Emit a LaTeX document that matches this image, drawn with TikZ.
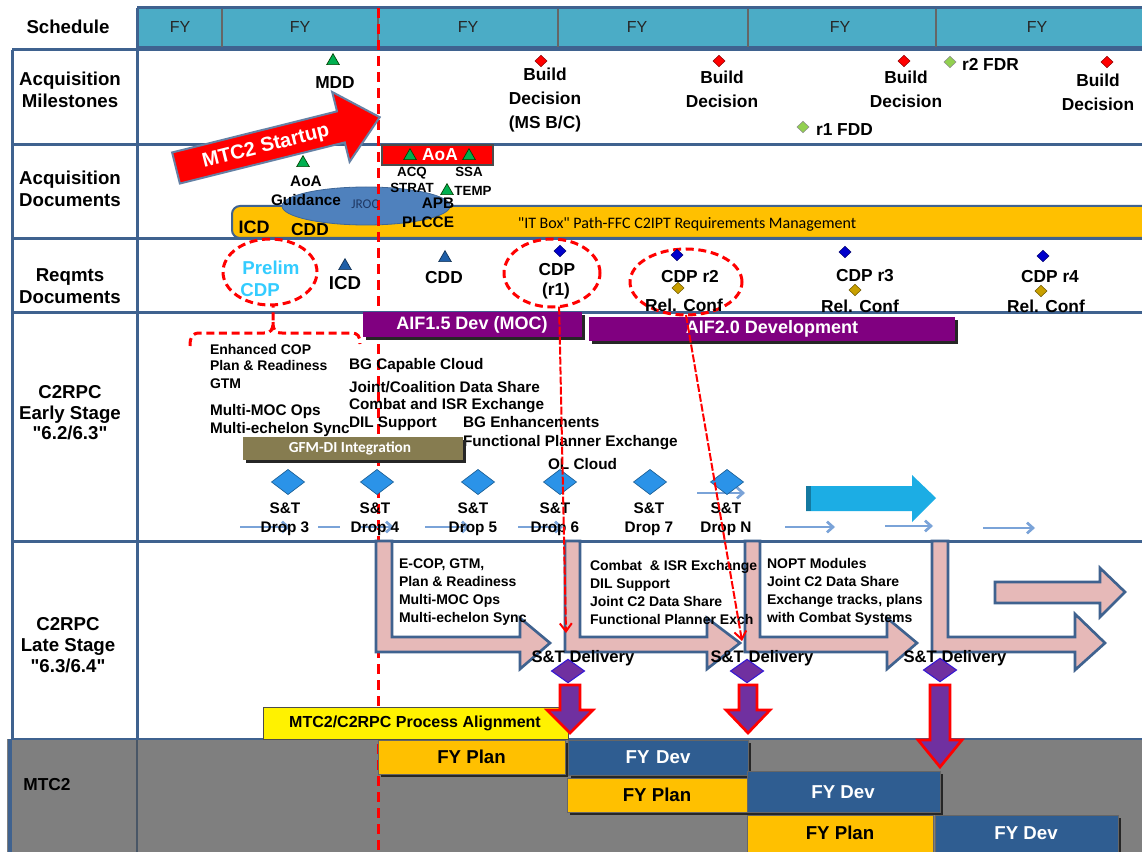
\documentclass[tikz,border=0pt]{standalone}
\usepackage{fontspec}
\setmainfont{Liberation Sans}
\newfontfamily\carl{Carlito}
\usetikzlibrary{shapes.geometric,arrows.meta}
\newcommand\Fs[2]{\fontsize{#1}{#2}\selectfont}
\definecolor{teal1}{HTML}{4BACC6}
\definecolor{bord}{HTML}{3F628F}
\definecolor{ellb}{HTML}{4F81BD}
\definecolor{gold1}{HTML}{FFC000}
\definecolor{purp}{HTML}{800080}
\definecolor{purd}{HTML}{7030A0}
\definecolor{grn}{HTML}{00B050}
\definecolor{sblue}{HTML}{2B93E8}
\definecolor{cdpb}{HTML}{0000CC}
\definecolor{goldd}{HTML}{C9A000}
\definecolor{lgrn}{HTML}{92D050}
\definecolor{pink1}{HTML}{E6B9B8}
\definecolor{cyan1}{HTML}{1CADE4}
\definecolor{gray1}{HTML}{7F7F7F}
\definecolor{fydev}{HTML}{2F5D91}
\definecolor{olive1}{HTML}{867C50}
\definecolor{thinb}{HTML}{7AA3D8}
\definecolor{prelim}{HTML}{33CCFF}
\definecolor{tblue}{HTML}{1F5FA8}
\definecolor{jroc}{HTML}{1F3864}
\begin{document}
\begin{tikzpicture}[x=0.75pt,y=-0.75pt,
  every node/.style={inner sep=0pt,outer sep=0pt},
  lab/.style={font=\Fs{14}{16.5}\bfseries,align=center},
  ms/.style={font=\Fs{13}{18}\bfseries,align=center},
  sm/.style={font=\Fs{11.5}{14.25}\bfseries,align=center},
  tinytx/.style={font=\Fs{10}{12}\bfseries,align=center},
  rq/.style={font=\Fs{13}{15}\bfseries,align=center},
  es/.style={font=\Fs{11.5}{14}\bfseries,anchor=west},
  ess/.style={font=\Fs{10.5}{13}\bfseries,anchor=west},
  droptx/.style={font=\Fs{11.5}{14.25}\bfseries,align=center},
  latetx/.style={font=\Fs{10.5}{13.5}\bfseries,align=left,anchor=west},
  fy/.style={font=\Fs{12}{14},text=black!85},
  boxtx/.style={font=\Fs{14}{16}\bfseries},
  tri/.style={regular polygon,regular polygon sides=3,minimum size=11pt,fill=grn,draw=green!25!black,line width=0.5pt},
  btri/.style={tri,fill=tblue,draw=tblue!50!black},
  rdiam/.style={diamond,minimum width=9pt,minimum height=8.5pt,fill=red,draw=red!55!black,line width=0.4pt},
  gdiam/.style={rdiam,fill=lgrn,draw=black!45},
  bdiam/.style={rdiam,fill=cdpb,draw=cdpb!55!black},
  odiam/.style={rdiam,fill=goldd,draw=goldd!55!black},
  sdiam/.style={diamond,minimum width=24.75pt,minimum height=18.75pt,fill=sblue,draw=sblue!65!black,line width=0.5pt},
  pdiam/.style={diamond,minimum width=24.75pt,minimum height=17.5pt,fill=purd,draw=blue!55!purd,line width=0.75pt},
  rdash/.style={red,line width=2.25pt,dash pattern=on 6pt off 3.5pt},
  dellipse/.style={ellipse,draw=red,line width=2.25pt,dash pattern=on 6pt off 3.5pt},
  thinarr/.style={thinb,line width=2pt,-{Straight Barb[length=4.5pt,width=8pt]}},
  pinkar/.style={fill=pink1,draw=bord,line width=2pt},
  downar/.style={fill=purd,draw=red,line width=2pt},
  gridln/.style={bord,line width=2.25pt},
  shad/.style={fill=black!85},
]
\useasboundingbox (0,0) rectangle (1142,852);
\fill[white] (0,0) rectangle (1142,852);
% gray MTC2 row
\fill[gray1] (7,739) rectangle (1142,852);
% header bar
\fill[teal1] (137,8) rectangle (1142,48);
\draw[gridln] (137,8) -- (1142,8);
\draw[gridln] (137,48) -- (1142,48);
\draw[gridln] (137,8) -- (137,48);
\foreach \xx in {222,378,558,748,936} \draw[black!60,line width=0.8pt] (\xx,9) -- (\xx,47);
% grid
\draw[gridln] (12,50) -- (1142,50);
\foreach \yy in {145,239,312,541} \draw[gridln] (12,\yy) -- (1142,\yy);
\draw[gridln] (12,50) -- (12,739);
\draw[gridln] (137,50) -- (137,739);
\draw[bord,line width=3pt] (10,739) -- (10,852);
\draw[black!40!bord!60!gray1,line width=1.5pt] (137,739) -- (137,852);
\draw[bord,line width=1.5pt] (12,739) -- (1142,739);
% header texts
\node[lab] (lsch) at (68,27) {Schedule};
\node[fy] (fy1) at (180,27) {FY};
\node[fy] (fy2) at (300,27) {FY};
\node[fy] (fy3) at (468,27) {FY};
\node[fy] (fy4) at (637,27) {FY};
\node[fy] (fy5) at (840,27) {FY};
\node[fy] (fy6) at (1037,27) {FY};
% row labels
\node[lab] (lam) at (70,90) {Acquisition\\Milestones};
\node[lab] (lad) at (70,189) {Acquisition\\Documents};
\node[lab] (lrd) at (70,286) {Reqmts\\Documents};
\node[lab,font=\Fs{14}{15.5}\bfseries] (les) at (70,413) {C2RPC\\Early Stage\\\textquotedbl 6.2/6.3\textquotedbl};
\node[lab,font=\Fs{14}{15.5}\bfseries] (lls) at (68,645) {C2RPC\\Late Stage\\\textquotedbl 6.3/6.4\textquotedbl};
\node[font=\Fs{13}{15}\bfseries] (lmtc) at (47,785) {MTC2};
% acquisition documents background shapes
\draw[fill=gold1,draw=bord,line width=1.5pt,rounded corners=6pt] (1142,206) -- (232,206) -- (232,238) -- (1142,238);
\draw[fill=ellb,draw=ellb!80!black,line width=0.6pt] (366,206) ellipse [x radius=84,y radius=19];
% red dashed timeline
\draw[red,line width=2.25pt,dash pattern=on 7.5pt off 4.5pt] (378,8) -- (378,852);
% milestones
\node[tri] (mddt) at (333,61) {};
\node[ms] (mdd) at (335,83) {MDD};
\node[rdiam] (bd1d) at (541,61) {};
\node[ms] (bd1) at (545,100) {Build\\Decision\\(MS B/C)};
\node[rdiam] (bd2d) at (719,61) {};
\node[ms] (bd2) at (722,89) {Build\\Decision};
\node[rdiam] (bd3d) at (904,61) {};
\node[ms] (bd3) at (906,89) {Build\\Decision};
\node[gdiam] (r2d) at (950,62) {};
\node[ms,anchor=west] (r2) at (962,64) {r2 FDR};
\node[rdiam] (bd4d) at (1107,62) {};
\node[ms] (bd4) at (1098,92) {Build\\Decision};
\node[gdiam] (r1d) at (803,127) {};
\node[ms,anchor=west] (r1) at (816,130) {r1 FDD};
% MTC2 startup arrow
\draw[fill=red,draw=bord!80,line width=1.5pt,line join=miter] (172.1,152.5) -- (337,111.4) -- (332.2,92) -- (379.7,117.2) -- (349.6,161.8) -- (344.8,142.4) -- (179.9,183.5) -- cycle;
\node[rotate=14,font=\Fs{15}{17}\bfseries,text=white] (mtcs) at (266,147) {MTC2 Startup};
% acquisition documents
\node[tri] (aoagt) at (303,163) {};
\node[sm] (aoag) at (306,191) {AoA\\Guidance};
\draw[fill=red,draw=black!70,line width=0.8pt] (382,145) rectangle (493,165);
\node[font=\Fs{13}{15}\bfseries,text=white] (aoa) at (440,155) {AoA};
\node[tri] (acqt) at (410,156) {};
\node[tri] (ssat) at (469,156) {};
\node[tinytx] (acq) at (412,180) {ACQ\\STRAT};
\node[tinytx] (ssa) at (469,172) {SSA};
\node[tri] (tempt) at (447,191) {};
\node[tinytx] (temp) at (473,191) {TEMP};
\node[sm] (apb) at (438,203) {APB};
\node[sm] (plcce) at (428,222) {PLCCE};
\node[font=\carl\Fs{10}{12},text=jroc] (jrocl) at (365,204) {JROC};
\node[font=\Fs{13.5}{15}\bfseries] (icd1) at (254,227) {ICD};
\node[font=\Fs{13}{15}\bfseries] (cdd1) at (310,230) {CDD};
\node[font=\carl\Fs{12}{14}] (itbox) at (687,224) {"IT Box" Path-FFC C2IPT Requirements Management};
% requirements documents
\node[dellipse,minimum width=70.5pt,minimum height=49.5pt] (pre) at (270,272) {};
\node[font=\Fs{14}{16}\bfseries,text=prelim] (prel) at (271,268) {Prelim};
\node[font=\Fs{14}{16}\bfseries,text=prelim] (precdp) at (260,290) {CDP};
\coordinate (bracetip) at (273,306);
\draw[rdash] (190,346) .. controls (190,337) and (192,333) .. (200,333) -- (264,333) .. controls (271,333) and (273,330) .. (273,322) -- (bracetip);
\draw[rdash] (273,322) .. controls (273,330) and (275,333) .. (282,333) -- (351,333) .. controls (358,333) and (360,336) .. (360,344);
\node[btri] (icdt) at (345,266) {};
\node[font=\Fs{14}{16}\bfseries] (icd2) at (345,283) {ICD};
\node[btri] (cddt) at (445,258) {};
\node[rq] (cdd2) at (444,278) {CDD};
\node[dellipse,minimum width=72pt,minimum height=51pt] (cdpa) at (552,273) {};
\node[bdiam] (cdpad) at (560,251) {};
\node[rq] (cdp1) at (557,270) {CDP};
\node[rq] (cdp1b) at (556,291) {(r1)};
\node[dellipse,minimum width=84pt,minimum height=49.5pt] (cdpb2) at (686,282) {};
\node[bdiam] (cdp2d) at (677,255) {};
\node[rq] (cdp2) at (690,277) {CDP r2};
\node[odiam] (rc2d) at (678,288) {};
\node[rq] (rc2) at (684,305) {Rel. Conf};
\node[bdiam] (cdp3d) at (845,252) {};
\node[rq] (cdp3) at (865,276) {CDP r3};
\node[odiam] (rc3d) at (855,290) {};
\node[rq] (rc3) at (860,306) {Rel. Conf};
\node[bdiam] (cdp4d) at (1043,256) {};
\node[rq] (cdp4) at (1050,277) {CDP r4};
\node[odiam] (rc4d) at (1041,291) {};
\node[rq] (rc4) at (1046,306) {Rel. Conf};
% early stage bars
\fill[shad] (366,315) rectangle (585,340);
\fill[purp] (363,312) rectangle (582,337);
\node[font=\Fs{13.5}{15}\bfseries,text=white] (aif15) at (472,325) {AIF1.5 Dev (MOC)};
\fill[shad] (592,320) rectangle (958,344);
\fill[purp] (589,317) rectangle (955,341);
\node[font=\Fs{13.5}{15}\bfseries,text=white] (aif20) at (772,329) {AIF2.0 Development};
% early stage texts
\node[ess] (t1) at (210,349) {Enhanced COP};
\node[ess] (t2) at (210,365) {Plan \& Readiness};
\node[ess] (t3) at (210,384) {GTM};
\node[es] (t4) at (210,412) {Multi-MOC Ops};
\node[es] (t5) at (210,430) {Multi-echelon Sync};
\node[es] (t6) at (349,366) {BG Capable Cloud};
\node[es] (t7) at (349,387) {Joint/Coalition Data Share};
\node[es] (t8) at (349,406) {Combat and ISR Exchange};
\node[es] (t9) at (349,424) {DIL Support};
\node[es] (t10) at (463,422) {BG Enhancements};
\node[es] (t11) at (463,443) {Functional Planner Exchange};
\node[es] (t12) at (548,464) {OL Cloud};
\fill[shad] (246,440) rectangle (466,463);
\fill[olive1] (243,437) rectangle (463,460);
\node[font=\carl\Fs{11.5}{13}\bfseries,text=white] (gfm) at (350,448) {GFM-DI Integration};
% thin arrows
\draw[thinarr] (240,527) -- (290,527);
\draw[thinb,line width=2pt] (318,527) -- (340,527);
\draw[thinarr] (360,527) -- (394,527);
\draw[thinarr] (425,527) -- (470,527);
\draw[thinarr] (518,527) -- (563,527);
\draw[thinarr] (697,493) -- (745,493);
\draw[thinarr] (785,527) -- (835,527);
\draw[thinarr] (885,526) -- (933,526);
\draw[thinarr] (983,528) -- (1035,528);
% big cyan arrow
\fill[cyan1] (806,486) -- (912,486) -- (912,475) -- (936,498) -- (912,522) -- (912,511) -- (806,511) -- cycle;
\fill[cyan1!70!black] (806,486) rectangle (811,511);
% S&T drops
\node[sdiam] (d3) at (288,482) {};
\node[sdiam] (d4) at (377,482) {};
\node[sdiam] (d5) at (478,482) {};
\node[sdiam] (d6) at (560,482) {};
\node[sdiam] (d7) at (650,482) {};
\node[sdiam] (dn) at (727,482) {};
\node[droptx] (d3l) at (285,519.5) {S\&T\\Drop 3};
\node[droptx] (d4l) at (375,519.5) {S\&T\\Drop 4};
\node[droptx] (d5l) at (473,519.5) {S\&T\\Drop 5};
\node[droptx] (d6l) at (555,519.5) {S\&T\\Drop 6};
\node[droptx] (d7l) at (649,519.5) {S\&T\\Drop 7};
\node[droptx] (dnl) at (726,519.5) {S\&T\\Drop N};
% late stage bent arrows
\draw[pinkar] (376,541) -- (392,541) -- (392,637) -- (520,637) -- (520,618) -- (550,643) -- (520,669) -- (520,652) -- (376,652) -- cycle;
\draw[pinkar] (565,541) -- (580,541) -- (580,637) -- (707,637) -- (707,618) -- (740,643) -- (707,669) -- (707,652) -- (565,652) -- cycle;
\draw[pinkar] (745,541) -- (760,541) -- (760,637) -- (887,637) -- (887,618) -- (917,643) -- (887,669) -- (887,652) -- (745,652) -- cycle;
\draw[pinkar] (932,541) -- (948,541) -- (948,637) -- (1075,637) -- (1075,614) -- (1105,643) -- (1075,670) -- (1075,652) -- (932,652) -- cycle;
\draw[pinkar] (995,582) -- (1100,582) -- (1100,568) -- (1125,592) -- (1100,617) -- (1100,603) -- (995,603) -- cycle;
\node[latetx] (l1) at (399,592) {E-COP, GTM,\\Plan \& Readiness\\Multi-MOC Ops\\Multi-echelon Sync};
\node[latetx] (l2) at (590,592) {Combat \ \& ISR Exchange\\DIL Support\\Joint C2 Data Share\\Functional Planner Exch};
\node[latetx] (l3) at (767,592) {NOPT Modules\\Joint C2 Data Share\\Exchange tracks, plans\\with Combat Systems};
\node[font=\Fs{12.5}{14}\bfseries] (del1) at (583,658) {S\&T Delivery};
\node[font=\Fs{12.5}{14}\bfseries] (del2) at (762,658) {S\&T Delivery};
\node[font=\Fs{12.5}{14}\bfseries] (del3) at (955,658) {S\&T Delivery};
% process alignment
\draw[fill=yellow,draw=black!70,line width=0.6pt] (263,707) rectangle (568,739);
\node[font=\Fs{12}{14}\bfseries] (pal) at (415,723) {MTC2/C2RPC Process Alignment};
% delivery diamonds and down arrows
\node[pdiam] (pd1) at (568,671) {};
\node[pdiam] (pd2) at (747,671) {};
\node[pdiam] (pd3) at (940,670) {};
\draw[downar] (560,685) -- (580,685) -- (580,710) -- (593,710) -- (570,733) -- (547,710) -- (560,710) -- cycle;
\draw[downar] (739,685) -- (757,685) -- (757,710) -- (770,710) -- (748,733) -- (726,710) -- (739,710) -- cycle;
\draw[downar] (930,685) -- (950,685) -- (950,740) -- (962,740) -- (940,767) -- (918,740) -- (930,740) -- cycle;
% MTC2 boxes
\fill[shad] (381,743) rectangle (568,777);
\draw[fill=gold1,draw=black!60,line width=0.5pt] (378,740) rectangle (565,774);
\node[boxtx] (fyp1) at (471.5,757) {FY Plan};
\fill[shad] (571,743) rectangle (751,778);
\draw[fill=fydev,draw=black!60,line width=0.5pt] (568,740) rectangle (748,775);
\node[boxtx,text=white] (fyd1) at (658,757) {FY\hspace{5pt}Dev};
\fill[shad] (570,781) rectangle (750,815);
\draw[fill=gold1,draw=black!60,line width=0.5pt] (567,778) rectangle (747,812);
\node[boxtx] (fyp2) at (657,795) {FY Plan};
\fill[shad] (750,774) rectangle (943,815);
\draw[fill=fydev,draw=black!60,line width=0.5pt] (747,771) rectangle (940,812);
\node[boxtx,text=white] (fyd2) at (843,792) {FY Dev};
\draw[fill=gold1,draw=black!60,line width=0.5pt] (747,815) rectangle (933,852);
\node[boxtx] (fyp3) at (840,833) {FY Plan};
\fill[shad] (938,818) rectangle (1121,855);
\draw[fill=fydev,draw=black!60,line width=0.5pt] (935,815) rectangle (1118,852);
\node[boxtx,text=white] (fyd3) at (1026,833) {FY Dev};
% red dashed connectors from CDP ellipses
\coordinate (d6tip) at (566,633);
\coordinate (dntip) at (742,641);
\draw[red,line width=1.5pt,dash pattern=on 6pt off 1.5pt,-{Straight Barb[length=6pt,width=9pt]}] (cdpa.282) -- (d6tip);
\draw[red,line width=1.5pt,dash pattern=on 6pt off 1.5pt,-{Straight Barb[length=6pt,width=9pt]}] (cdpb2.south) -- (dntip);
\end{tikzpicture}
\end{document}
